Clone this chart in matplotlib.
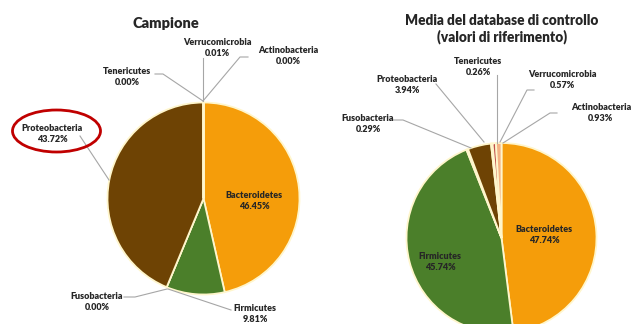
import matplotlib.pyplot as plt
from matplotlib.patches import Ellipse

# === DATA ===
phyla = ["Bacteroidetes", "Firmicutes", "Fusobacteria", "Proteobacteria",
         "Tenericutes", "Verrucomicrobia", "Actinobacteria"]
campione = [46.45, 9.81, 0.00, 43.72, 0.00, 0.01, 0.00]
riferimento = [47.74, 45.74, 0.29, 3.94, 0.26, 0.57, 0.93]

colors = ["#F59D0A", "#4B7F2A", "#F2F2F2", "#6E4304",
          "#F8E0D0", "#C0504D", "#F4B183"]

EDGE = "#FFF6CC"
LINE = "#A6A6A6"
TXT = "#262626"

W, H = 632, 324


def py(y):
    # screen-style y (top down) -> axes y (bottom up)
    return H - y


fig = plt.figure(figsize=(W / 100, H / 100), dpi=100)
ax = fig.add_axes([0, 0, 1, 1])
plt.rcParams['font.family'] = ['Lato', 'DejaVu Sans']

# === PIES ===
ax.pie(campione, colors=colors, startangle=90, counterclock=False,
       center=(203.5, py(198.5)), radius=96, normalize=True,
       wedgeprops=dict(edgecolor=EDGE, linewidth=1.3))
ax.pie(riferimento, colors=colors, startangle=90, counterclock=False,
       center=(501.5, py(238)), radius=95, normalize=True,
       wedgeprops=dict(edgecolor=EDGE, linewidth=1.3))

ax.set_xlim(0, W)
ax.set_ylim(0, H)
ax.set_aspect("auto")
ax.axis("off")

# === LABELS ===
left_pos = [(254, 201), (255, 314), (97, 302), (52, 134),
            (127, 77), (217, 48), (288, 56)]
right_pos = [(544, 235), (440, 262), (368, 124), (407, 85),
             (478, 67), (562, 80), (601, 113)]

left_lines = [
    None,
    [(168, 289), (231, 310)],
    [(124, 297), (135, 297), (167, 289)],
    [(80, 136), (109, 180)],
    [(155, 74), (163, 74), (203, 101)],
    [(203, 58), (203, 101)],
    [(248, 57), (240, 57), (203, 101)],
]
right_lines = [
    None,
    None,
    [(393, 120), (403, 120), (471, 148)],
    [(436, 84), (484, 142)],
    [(497, 75), (497, 143)],
    [(534, 90), (527, 90), (500, 142)],
    [(557, 113), (550, 113), (503, 143)],
]

for values, positions, lines in [(campione, left_pos, left_lines),
                                 (riferimento, right_pos, right_lines)]:
    for name, v, (x, y), seg in zip(phyla, values, positions, lines):
        if seg:
            ax.plot([p[0] for p in seg], [py(p[1]) for p in seg],
                    color=LINE, lw=0.8, zorder=1)
        ax.text(x, py(y), f"{name}\n{v:.2f}%", ha="center", va="center",
                fontsize=6.5, fontweight="heavy", color=TXT, linespacing=1.3,
                zorder=3)

# === TITLES ===
ax.text(166, py(23), "Campione", ha="center", va="center",
        fontsize=10.5, fontweight="heavy", color=TXT)
ax.text(502, py(29), "Media del database di controllo\n(valori di riferimento)",
        ha="center", va="center", fontsize=9.8, fontweight="heavy", color=TXT,
        linespacing=1.25)

# highlight around Proteobacteria label
ax.add_patch(Ellipse((56.5, py(131)), 88, 42, fill=False,
                     edgecolor="#C00000", linewidth=2, zorder=4))

fig.savefig("out.png", dpi=100)
